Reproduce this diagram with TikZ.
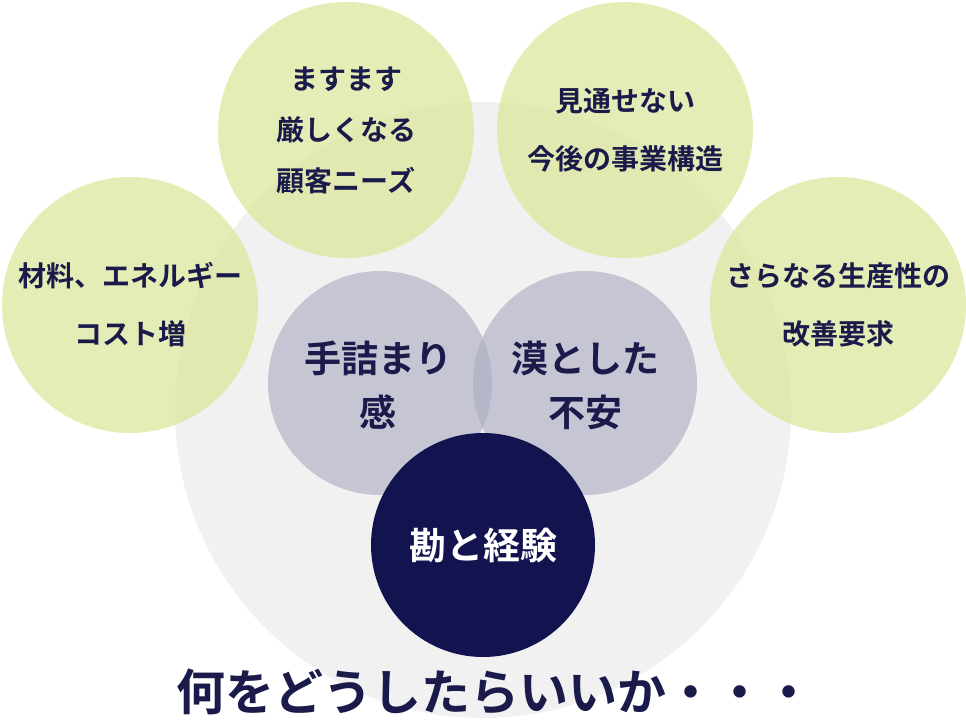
\documentclass[tikz,border=0pt]{standalone}
\usepackage{fontspec}
\newfontfamily\jp{Noto Sans CJK JP}[BoldFont={Noto Sans CJK JP Bold}]
\definecolor{bg}{HTML}{F1F1F1}
\definecolor{gr}{HTML}{DDE8A0}
\definecolor{md}{HTML}{AEAEC4}
\definecolor{dk}{HTML}{13144F}
\definecolor{tx}{HTML}{1B1B4B}
\tikzset{
 green/.style={circle,fill=gr,fill opacity=0.78,text opacity=1,minimum size=256pt,inner sep=0pt,align=center,font=\jp\bfseries\fontsize{28}{58}\selectfont,text=tx},
 mid/.style={circle,fill=md,fill opacity=0.65,minimum size=224pt},
 lbl/.style={align=center,font=\jp\bfseries\fontsize{37}{54}\selectfont,text=tx}
}
\begin{document}
\begin{tikzpicture}[x=1pt,y=-1pt]
\useasboundingbox (0,0) rectangle (966,722);
\node[circle,fill=bg,minimum size=616pt] (big) at (483,410) {};
\node[green] (g1) at (130,305) {材料、エネルギー\\コスト増};
\node[green,font=\jp\bfseries\fontsize{28}{51}\selectfont] (g2) at (346,130) {ますます\\厳しくなる\\顧客ニーズ};
\node[green] (g3) at (625,130) {見通せない\\今後の事業構造};
\node[green] (g4) at (838,305) {さらなる生産性の\\改善要求};
\node[mid] (m1) at (380,383) {};
\node[mid] (m2) at (585,383) {};
\node[lbl] (t1) at (378,385) {手詰まり\\感};
\node[lbl] (t2) at (585,385) {漠とした\\不安};
\node[circle,fill=dk,minimum size=224pt,text=white,font=\jp\bfseries\fontsize{37}{44}\selectfont] (d) at (483,545) {勘と経験};
\node[font=\jp\bfseries\fontsize{49}{55}\selectfont,text=tx] (q) at (495,692) {何をどうしたらいいか・・・};
\end{tikzpicture}
\end{document}
